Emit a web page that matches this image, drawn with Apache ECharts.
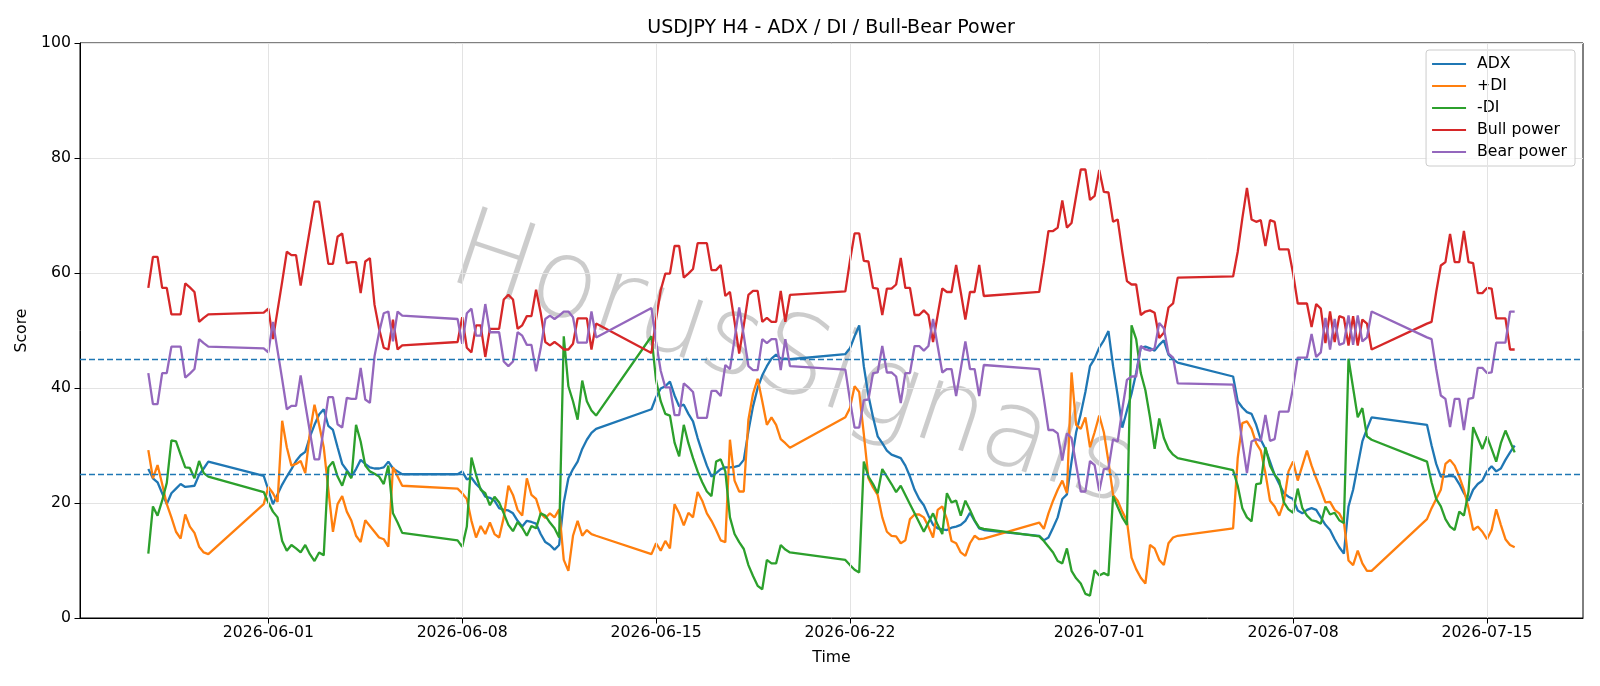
<!DOCTYPE html>
<html>
<head>
<meta charset="utf-8">
<title>USDJPY H4 - ADX / DI / Bull-Bear Power</title>
<script src="https://cdn.jsdelivr.net/npm/echarts@6/dist/echarts.min.js"></script>
<style>
  html, body { margin: 0; padding: 0; background: #fff; }
  #chart { width: 1600px; height: 686px; }
</style>
</head>
<body>
<div id="chart"></div>
<script>
// H4 sessions (UTC open of first bar) and bar count, weekends are skipped
const sessionStarts = ['2026-05-27T16:00:00Z', '2026-05-31T20:00:00Z', '2026-06-07T20:00:00Z', '2026-06-14T20:00:00Z',
  '2026-06-21T20:00:00Z', '2026-06-28T20:00:00Z', '2026-07-05T20:00:00Z', '2026-07-12T20:00:00Z'];
const sessionBars = [14, 31, 31, 31, 31, 31, 31, 20];
const tickLabels = ['2026-06-01', '2026-06-08', '2026-06-15', '2026-06-22', '2026-07-01', '2026-07-08', '2026-07-15'];
const levels = [25, 45];

const adx = [
  25.9, 24.3, 23.6, 21.7, 19.8, 21.7, 22.5, 23.3, 22.8, 22.9, 23.0, 24.9, 26.0, 27.2,
  24.7, 22.3, 19.8, 21.5, 23.2, 24.6, 25.9, 27.3, 28.3, 28.9, 31.5, 33.6, 35.4, 36.3, 33.4, 32.7, 29.7, 26.8, 25.7, 24.6, 25.9, 27.5, 26.8, 26.2, 26.0, 26.0, 26.2, 27.2, 26.0, 25.5, 25.0,
  25.0, 25.5, 24.1, 24.4, 23.3, 22.5, 21.1, 20.9, 20.4, 19.1, 18.8, 18.7, 18.2, 16.9, 15.9, 16.9, 16.7, 16.4, 14.6, 13.2, 12.7, 11.9, 12.7, 20.1, 24.3, 25.9, 27.2, 29.4, 31.0, 32.2, 32.9,
  36.3, 38.4, 39.9, 40.3, 41.1, 38.7, 36.8, 37.1, 35.5, 34.2, 31.3, 28.8, 26.5, 24.6, 25.2, 25.9, 26.2, 26.2, 26.3, 26.5, 27.5, 32.5, 36.8, 40.0, 42.2, 43.8, 45.1, 45.8, 45.1, 45.1, 45.0,
  45.9, 46.9, 49.0, 50.9, 43.8, 38.7, 34.9, 31.6, 30.4, 29.1, 28.4, 28.1, 27.8, 26.5, 24.6, 22.3, 20.7, 19.6, 17.8, 16.2, 15.6, 15.4, 15.3, 15.7, 15.9, 16.2, 16.9, 18.3, 16.9, 15.6, 15.3,
  14.3, 13.5, 14.0, 15.7, 17.5, 20.7, 21.5, 27.2, 32.3, 35.5, 39.3, 43.8, 45.1, 47.0, 48.3, 49.9, 43.8, 38.7, 33.1, 36.1, 39.0, 42.6, 47.0, 47.2, 46.9, 46.5, 47.5, 48.3, 45.8, 45.0, 44.4,
  42.0, 37.7, 36.6, 35.8, 35.5, 33.6, 31.0, 29.4, 27.2, 24.9, 23.3, 21.7, 21.1, 20.7, 18.7, 18.2, 18.8, 19.1, 18.8, 17.5, 16.2, 15.3, 13.7, 12.3, 11.2, 19.4, 22.3, 26.5, 30.7, 32.9, 34.9,
  33.6, 30.0, 26.8, 24.6, 24.6, 24.7, 24.6, 23.3, 21.7, 20.4, 22.3, 23.3, 23.9, 25.5, 26.4, 25.5, 26.0, 27.5, 28.8, 30.0
];
const plusDI = [
  29.2, 24.3, 26.6, 23.3, 19.8, 17.5, 15.0, 13.8, 18.0, 15.9, 14.8, 12.4, 11.4, 11.1,
  19.8, 22.8, 21.7, 20.2, 34.3, 29.7, 26.5, 26.8, 27.3, 25.2, 32.3, 37.1, 33.6, 29.7, 22.3, 15.0, 19.8, 21.2, 18.5, 16.9, 14.3, 13.2, 17.0, 16.0, 15.0, 14.0, 13.7, 12.4, 26.2, 24.6, 23.0,
  22.5, 21.7, 20.7, 16.9, 14.0, 16.0, 14.6, 16.6, 14.6, 14.0, 17.5, 23.0, 21.4, 18.8, 17.8, 24.3, 21.4, 20.7, 18.2, 17.4, 18.2, 17.5, 18.9, 10.1, 8.2, 14.3, 16.9, 14.3, 15.3, 14.6, 14.3,
  11.1, 13.0, 11.7, 13.4, 12.1, 19.8, 18.2, 16.1, 18.3, 17.5, 21.9, 20.4, 18.2, 16.9, 15.3, 13.5, 13.2, 31.0, 23.9, 22.0, 22.0, 34.5, 39.0, 41.6, 37.7, 33.6, 34.9, 33.6, 31.1, 30.4, 29.6,
  34.9, 36.5, 40.3, 39.3, 32.0, 24.3, 22.7, 21.4, 17.5, 15.0, 14.3, 14.2, 13.0, 13.5, 17.2, 18.0, 18.0, 17.5, 15.9, 14.0, 18.8, 19.4, 17.2, 13.4, 13.0, 11.4, 10.8, 13.0, 14.3, 13.7, 13.8,
  16.6, 15.5, 18.2, 20.4, 22.3, 23.9, 21.7, 42.7, 33.6, 32.9, 34.9, 29.7, 32.3, 35.2, 32.3, 27.2, 21.4, 20.4, 18.5, 16.9, 10.5, 8.5, 7.0, 6.0, 12.7, 12.1, 10.1, 9.2, 13.0, 14.0, 14.3,
  15.6, 27.8, 33.9, 34.2, 32.9, 30.4, 29.1, 25.2, 20.4, 19.4, 17.8, 20.1, 25.5, 27.2, 23.9, 26.5, 29.1, 26.5, 24.3, 22.3, 20.1, 20.2, 18.8, 18.2, 16.7, 10.0, 9.2, 11.7, 9.5, 8.2, 8.2,
  17.2, 19.1, 20.7, 22.3, 26.8, 27.5, 26.5, 24.6, 22.3, 19.1, 15.3, 15.9, 15.0, 13.7, 15.3, 18.9, 16.2, 13.7, 12.7, 12.3
];
const minusDI = [
  11.2, 19.4, 17.8, 20.4, 23.5, 30.9, 30.7, 28.4, 26.2, 26.1, 24.3, 27.3, 25.2, 24.6,
  21.9, 20.1, 18.5, 17.5, 13.4, 11.7, 12.7, 12.1, 11.4, 12.7, 11.1, 9.9, 11.4, 10.9, 26.2, 27.2, 24.6, 23.0, 25.5, 24.3, 33.6, 30.7, 26.5, 25.5, 25.1, 24.6, 23.3, 26.5, 18.2, 16.6, 14.8,
  13.5, 12.4, 15.9, 27.9, 24.9, 22.3, 21.7, 19.6, 21.1, 20.1, 18.2, 16.2, 15.1, 16.7, 15.7, 14.3, 16.0, 15.6, 18.2, 17.8, 16.6, 15.6, 14.0, 49.0, 40.3, 37.7, 34.5, 41.3, 37.7, 36.1, 35.2,
  49.0, 41.3, 37.7, 35.5, 35.2, 30.5, 28.1, 33.6, 30.4, 27.8, 25.5, 23.6, 22.0, 21.2, 27.2, 27.6, 25.5, 17.5, 14.6, 13.2, 12.0, 9.2, 7.3, 5.6, 5.0, 10.1, 9.5, 9.5, 12.7, 11.9, 11.4,
  10.1, 9.2, 8.4, 7.9, 27.2, 24.6, 23.3, 21.7, 25.9, 24.6, 23.3, 21.9, 23.0, 21.4, 19.8, 18.2, 16.6, 15.0, 16.6, 18.2, 16.2, 14.6, 21.7, 20.1, 20.4, 17.8, 20.4, 18.8, 17.0, 15.7, 15.5,
  14.2, 13.4, 12.4, 11.4, 9.9, 9.5, 12.1, 8.2, 6.9, 6.0, 4.2, 3.9, 8.3, 7.4, 7.8, 7.4, 21.2, 19.3, 17.5, 16.2, 50.9, 48.5, 42.6, 39.6, 34.9, 29.4, 34.7, 31.3, 29.4, 28.4, 27.8,
  25.7, 23.0, 19.1, 17.5, 16.8, 23.3, 23.4, 29.7, 26.5, 24.9, 23.9, 20.1, 18.9, 18.3, 22.5, 19.1, 17.8, 17.0, 16.8, 16.4, 19.4, 18.0, 18.3, 17.0, 16.5, 45.1, 40.0, 34.9, 36.5, 31.6, 31.0,
  27.2, 23.6, 20.7, 19.4, 17.2, 15.9, 15.3, 18.5, 17.8, 22.0, 33.2, 31.3, 29.4, 31.6, 29.4, 27.2, 30.4, 32.6, 30.7, 28.8
];
const bullPower = [
  57.4, 62.8, 62.8, 57.4, 57.4, 52.8, 52.8, 52.8, 58.2, 57.5, 56.7, 51.5, 52.2, 52.8,
  53.1, 53.8, 48.5, 53.5, 58.5, 63.7, 63.1, 63.1, 57.8, 62.8, 67.6, 72.4, 72.4, 67.0, 61.6, 61.6, 66.3, 66.9, 61.7, 61.9, 61.9, 56.5, 62.0, 62.6, 54.5, 50.3, 47.0, 46.7, 51.9, 46.7, 47.4,
  48.0, 52.3, 47.0, 46.2, 50.9, 50.9, 45.4, 50.3, 50.3, 50.3, 55.4, 56.2, 55.4, 50.3, 50.9, 52.5, 52.5, 57.1, 53.1, 48.0, 47.4, 48.0, 47.4, 46.7, 46.7, 47.7, 52.1, 52.1, 52.1, 46.7, 51.2,
  46.1, 52.0, 57.0, 59.9, 59.9, 64.7, 64.7, 59.2, 59.9, 60.7, 65.2, 65.2, 65.2, 60.5, 60.5, 61.4, 56.0, 56.7, 51.5, 46.0, 50.9, 56.2, 56.9, 56.9, 51.5, 52.2, 51.5, 51.5, 56.9, 51.5, 56.2,
  56.8, 62.1, 66.9, 66.9, 62.1, 62.0, 57.4, 57.3, 52.7, 57.3, 57.3, 58.0, 62.6, 57.4, 57.4, 52.7, 52.7, 53.5, 52.7, 48.0, 52.7, 57.3, 56.7, 56.7, 61.4, 56.7, 51.9, 56.7, 56.7, 61.4, 56.0,
  56.7, 61.8, 67.3, 67.3, 67.9, 72.6, 67.9, 68.7, 73.4, 78.0, 78.0, 72.7, 73.4, 77.9, 74.1, 74.0, 68.9, 69.3, 63.7, 58.6, 58.0, 58.0, 52.7, 53.3, 53.5, 53.1, 48.7, 49.6, 54.0, 54.7, 59.2,
  59.4, 63.7, 69.5, 74.8, 69.3, 68.9, 69.2, 64.7, 69.2, 68.9, 64.1, 64.1, 64.1, 59.9, 54.7, 54.7, 54.7, 50.6, 54.6, 53.8, 47.8, 53.3, 48.0, 52.5, 52.2, 47.4, 52.5, 47.4, 51.9, 51.2, 46.7,
  51.2, 51.5, 56.7, 61.3, 61.9, 66.8, 61.9, 61.9, 67.3, 61.9, 61.7, 56.5, 56.5, 57.4, 57.3, 52.1, 52.1, 52.1, 46.7, 46.7
];
const bearPower = [
  42.6, 37.2, 37.2, 42.6, 42.6, 47.2, 47.2, 47.2, 41.8, 42.5, 43.3, 48.5, 47.8, 47.2,
  46.9, 46.2, 51.5, 46.5, 41.5, 36.3, 36.9, 36.9, 42.2, 37.2, 32.4, 27.6, 27.6, 33.0, 38.4, 38.4, 33.7, 33.1, 38.3, 38.1, 38.1, 43.5, 38.0, 37.4, 45.5, 49.7, 53.0, 53.3, 48.1, 53.3, 52.6,
  52.0, 47.7, 53.0, 53.8, 49.1, 49.1, 54.6, 49.7, 49.7, 49.7, 44.6, 43.8, 44.6, 49.7, 49.1, 47.5, 47.5, 42.9, 46.9, 52.0, 52.6, 52.0, 52.6, 53.3, 53.3, 52.3, 47.9, 47.9, 47.9, 53.3, 48.8,
  53.9, 48.0, 43.0, 40.1, 40.1, 35.3, 35.3, 40.8, 40.1, 39.3, 34.8, 34.8, 34.8, 39.5, 39.5, 38.6, 44.0, 43.3, 48.5, 54.0, 49.1, 43.8, 43.1, 43.1, 48.5, 47.8, 48.5, 48.5, 43.1, 48.5, 43.8,
  43.2, 37.9, 33.1, 33.1, 37.9, 38.0, 42.6, 42.7, 47.3, 42.7, 42.7, 42.0, 37.4, 42.6, 42.6, 47.3, 47.3, 46.5, 47.3, 52.0, 47.3, 42.7, 43.3, 43.3, 38.6, 43.3, 48.1, 43.3, 43.3, 38.6, 44.0,
  43.3, 38.2, 32.7, 32.7, 32.1, 27.4, 32.1, 31.3, 26.6, 22.0, 22.0, 27.3, 26.6, 22.1, 25.9, 26.0, 31.1, 30.7, 36.3, 41.4, 42.0, 42.0, 47.3, 46.7, 46.5, 46.9, 51.3, 50.4, 46.0, 45.3, 40.8,
  40.6, 36.3, 30.5, 25.2, 30.7, 31.1, 30.8, 35.3, 30.8, 31.1, 35.9, 35.9, 35.9, 40.1, 45.3, 45.3, 45.3, 49.4, 45.4, 46.2, 52.2, 46.7, 52.0, 47.5, 47.8, 52.6, 47.5, 52.6, 48.1, 48.8, 53.3,
  48.8, 48.5, 43.3, 38.7, 38.1, 33.2, 38.1, 38.1, 32.7, 38.1, 38.3, 43.5, 43.5, 42.6, 42.7, 47.9, 47.9, 47.9, 53.3, 53.3
];

const FONT = "'DejaVu Sans', sans-serif";
const FS = 15.7; // tick / legend / label size
const H4 = 4 * 3600 * 1000;

let times = [];
sessionStarts.forEach((s, k) => {
  let t0 = Date.parse(s);
  for (let i = 0; i < sessionBars[k]; i++) times.push(t0 + i * H4);
});

// matplotlib style 5% margin on the time axis
const span = times[times.length - 1] - times[0];
const xMin = times[0] - span * 0.05;
const xMax = times[times.length - 1] + span * 0.05;
const tickValues = tickLabels.map(d => Date.parse(d + 'T00:00:00Z'));

function pad(n) { return n < 10 ? '0' + n : '' + n; }
function fmtDate(v) {
  const d = new Date(v);
  return d.getUTCFullYear() + '-' + pad(d.getUTCMonth() + 1) + '-' + pad(d.getUTCDate());
}

const names = ['ADX', '+DI', '-DI', 'Bull power', 'Bear power'];
const colors = ['#1f77b4', '#ff7f0e', '#2ca02c', '#d62728', '#9467bd'];
const values = [adx, plusDI, minusDI, bullPower, bearPower];

let series = [];
// vertical grid lines at the date ticks
series.push({
  name: 'xgrid', type: 'line', data: [], z: 1, silent: true,
  markLine: {
    silent: true, symbol: 'none', animation: false, label: { show: false },
    lineStyle: { color: '#e3e3e3', type: 'solid', width: 1 },
    data: tickValues.map(v => ({ xAxis: v }))
  }
});
values.forEach((vals, k) => {
  series.push({
    name: names[k], type: 'line', z: 3,
    data: times.map((t, i) => [t, vals[i]]),
    showSymbol: false, symbol: 'none',
    lineStyle: { width: 2.3, color: colors[k] },
    itemStyle: { color: colors[k] }
  });
});
// threshold lines
series.push({
  name: 'levels', type: 'line', data: [], z: 4, silent: true,
  markLine: {
    silent: true, symbol: 'none', animation: false, label: { show: false },
    lineStyle: { color: '#1f77b4', type: [6, 3], width: 1.4 },
    data: levels.map(v => ({ yAxis: v }))
  }
});

let chart = echarts.init(document.getElementById('chart'));
let option = {
  animation: false,
  backgroundColor: '#fff',
  textStyle: { fontFamily: FONT },
  title: {
    text: 'USDJPY H4 - ADX / DI / Bull-Bear Power',
    left: 831, top: 19, textAlign: 'center', padding: 0,
    textStyle: { fontSize: 19, fontWeight: 'normal', color: '#000', fontFamily: FONT }
  },
  legend: {
    data: names, orient: 'vertical', right: 25, top: 50,
    icon: 'rect', itemWidth: 34, itemHeight: 2, itemGap: 6,
    padding: [6, 8, 6, 6], selectedMode: false,
    backgroundColor: 'rgba(255,255,255,0.8)', borderColor: '#cccccc', borderWidth: 1, borderRadius: 3,
    textStyle: { fontSize: FS, color: '#000', lineHeight: 16, padding: [0, 0, 0, 6], fontFamily: FONT }
  },
  grid: {
    left: 80, right: 17, top: 43, bottom: 68,
    show: true, borderColor: '#000', borderWidth: 1, backgroundColor: 'transparent',
    containLabel: false
  },
  graphic: [{
    type: 'text', x: 792, y: 364, rotation: -18.5 * Math.PI / 180, z: 0, silent: true,
    style: {
      text: 'HorusSignals', fontSize: 110, fontFamily: "'DejaVu Sans'", fontWeight: 200,
      fill: 'rgba(0,0,0,0.2)', align: 'center', verticalAlign: 'middle'
    }
  }],
  xAxis: {
    type: 'value', min: xMin, max: xMax,
    name: 'Time', nameLocation: 'middle', nameGap: 32,
    nameTextStyle: { fontSize: FS, color: '#000', fontFamily: FONT },
    axisLine: { show: true, lineStyle: { color: '#000', width: 1 } },
    axisTick: { show: true, customValues: tickValues, length: 5.5, lineStyle: { color: '#000', width: 1 } },
    axisLabel: { customValues: tickValues, formatter: fmtDate, fontSize: FS, color: '#000', margin: 7, fontFamily: FONT },
    splitLine: { show: false }
  },
  yAxis: {
    type: 'value', min: 0, max: 100, interval: 20,
    name: 'Score', nameLocation: 'middle', nameGap: 41, nameRotate: 90,
    nameTextStyle: { fontSize: FS, color: '#000', fontFamily: FONT },
    axisLine: { show: true, lineStyle: { color: '#000', width: 1 } },
    axisTick: { show: true, length: 5.5, lineStyle: { color: '#000', width: 1 } },
    axisLabel: { fontSize: FS, color: '#000', margin: 9, fontFamily: FONT },
    splitLine: { show: true, lineStyle: { color: '#e3e3e3', width: 1 } }
  },
  series: series
};
chart.setOption(option);
</script>
</body>
</html>
